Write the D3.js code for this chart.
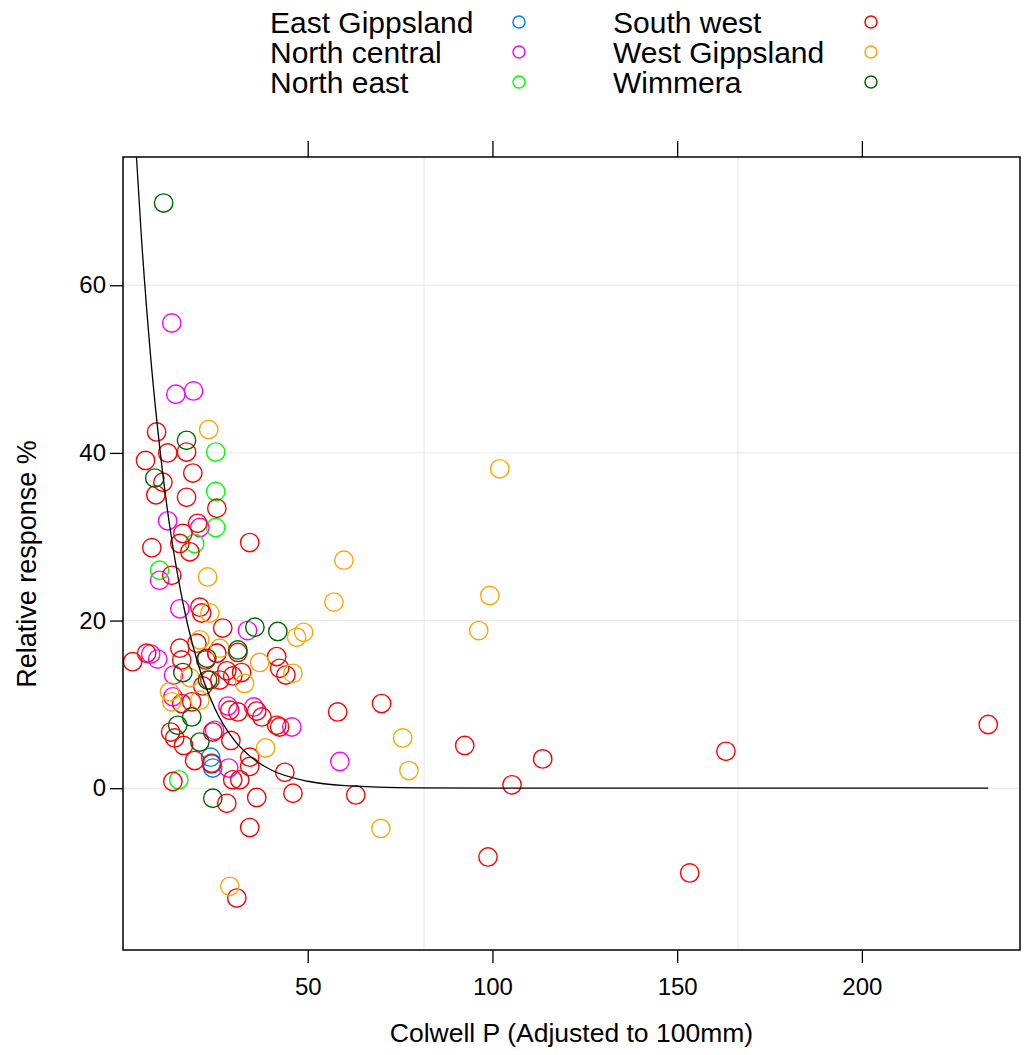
<!DOCTYPE html>
<html>
<head>
<meta charset="utf-8">
<script src="https://cdn.jsdelivr.net/npm/d3@7"></script>
<style>
  body { margin: 0; background: #fff; }
  text { font-family: "Liberation Sans", Arial, sans-serif; fill: #000; }
</style>
</head>
<body>
<div id="chart"></div>
<script>
// Data
var regions = ['East Gippsland', 'North central', 'North east', 'South west', 'West Gippsland', 'Wimmera'];
var regionColours = ['#0080ff', '#ff00ff', '#00ff00', '#ff0000', '#ffa500', '#006400'];

var eastGippslandX = [23.7, 24.0, 24.3];
var eastGippslandY = [3.7, 3.0, 2.4];

var northCentralX = [13.2, 14.3, 19.1, 12.1, 20.8, 9.9, 15.4, 33.7, 7.5, 9.4, 13.7, 13.5, 28.4, 35.4, 45.7, 24.8, 28.6, 58.7, 25.4];
var northCentralY = [55.5, 47.0, 47.4, 31.9, 31.1, 24.8, 21.4, 18.8, 16.0, 15.4, 13.5, 10.9, 9.8, 9.7, 7.3, 6.9, 2.4, 3.2, 16.1];

var northEastX = [25.1, 25.1, 25.1, 9.9, 19.4, 15.1];
var northEastY = [40.1, 35.4, 31.1, 26.0, 29.2, 1.0];

var southWestX = [2.6, 6.1, 9.1, 8.9, 10.8, 12.1, 7.8, 17.2, 18.9, 17.2, 25.4, 20.2, 16.2, 15.4, 18.1, 34.3, 13.2,
    20.8, 21.3, 27.0, 6.4, 15.4, 15.9, 20.0, 22.4, 28.1, 29.7, 32.1, 26.2, 21.6, 23.5, 41.6, 42.4, 44.1,
    15.9, 18.6, 28.9, 31.1, 36.2, 37.6, 41.6, 42.4, 12.9, 14.0, 16.4, 29.2, 24.3, 19.4, 24.0, 34.3, 34.3,
    43.8, 13.5, 29.7, 31.6, 28.1, 36.2, 46.0, 63.0, 34.3, 30.8, 58.1, 70.0, 92.5, 105.3, 98.8, 113.6,
    153.4, 163.2, 234.2, 31.1, 25.4];
var southWestY = [15.1, 39.1, 42.5, 35.0, 36.5, 40.0, 28.7, 40.1, 37.6, 34.7, 33.4, 31.6, 30.4, 29.2, 28.2, 29.3, 25.4,
    21.6, 20.9, 19.1, 16.1, 16.7, 15.3, 17.3, 15.3, 14.0, 13.4, 13.8, 12.9, 12.2, 12.9, 15.7, 14.3, 13.5,
    10.1, 10.3, 9.3, 9.1, 9.2, 8.5, 7.5, 7.3, 6.7, 6.0, 5.1, 5.7, 6.7, 3.3, 2.9, 3.7, 2.6,
    1.9, 0.8, 1.0, 1.0, -1.8, -1.1, -0.6, -0.8, -4.7, -13.1, 9.1, 10.1, 5.1, 0.4, -8.2, 3.5,
    -10.1, 4.4, 7.6, 16.2, 16.1];

var westGippslandX = [23.2, 22.9, 102.0, 59.8, 57.1, 99.3, 96.3, 47.0, 48.9, 46.0, 75.7, 77.4, 69.8, 28.9, 38.6,
    23.5, 20.8, 37.0, 32.9, 12.6, 18.1, 26.2, 13.2, 20.8];
var westGippslandY = [42.8, 25.2, 38.1, 27.2, 22.2, 23.0, 18.8, 18.0, 18.6, 13.7, 6.0, 2.1, -4.8, -11.7, 4.8,
    20.9, 17.7, 15.0, 12.5, 11.5, 13.2, 16.7, 10.3, 10.5];

var wimmeraX = [11.0, 17.2, 8.6, 35.7, 41.9, 31.1, 22.7, 16.2, 22.9, 14.8, 18.6, 20.8, 24.3];
var wimmeraY = [69.8, 41.5, 37.0, 19.2, 18.7, 16.5, 15.5, 13.8, 12.9, 7.5, 8.5, 5.5, -1.2];

// fitted decay curve, read along its path
var fitX = [2.6, 5, 7.5, 10, 12.5, 15, 17.5, 20, 25, 30, 35, 40, 50, 60, 80, 100, 150, 234.2];
var fitY = [82.8, 65.6, 51.4, 40.4, 31.7, 24.9, 19.5, 15.3, 9.4, 5.8, 3.6, 2.2, 0.83, 0.32, 0.05, 0.01, 0, 0];

var xTicks = [50, 100, 150, 200];
var yTicks = [0, 20, 40, 60];
var xGrid = [81.5, 166.5];

var seriesX = [eastGippslandX, northCentralX, northEastX, southWestX, westGippslandX, wimmeraX];
var seriesY = [eastGippslandY, northCentralY, northEastY, southWestY, westGippslandY, wimmeraY];

//   Base chart space
var W = 1024, H = 1055;
var panel = {left: 123, right: 1020, top: 157, bottom: 950};

var svg = d3.select('#chart').append('svg')
    .attr('width', W)
    .attr('height', H);
svg.append('rect').attr('width', W).attr('height', H).attr('fill', '#fff');

var x = d3.scaleLinear().domain([0, 242.8]).range([panel.left, panel.right]);
var y = d3.scaleLinear().domain([-19.3, 75.3]).range([panel.bottom, panel.top]);

svg.append('clipPath').attr('id', 'clip')
    .append('rect')
    .attr('x', panel.left).attr('y', panel.top)
    .attr('width', panel.right - panel.left)
    .attr('height', panel.bottom - panel.top);

// Grid
svg.selectAll('.hgrid').data(yTicks).enter().append('line')
    .attr('x1', panel.left).attr('x2', panel.right)
    .attr('y1', function(d) { return y(d); })
    .attr('y2', function(d) { return y(d); })
    .attr('stroke', '#e6e6e6').attr('stroke-width', 1);
svg.selectAll('.vgrid').data(xGrid).enter().append('line')
    .attr('y1', panel.top).attr('y2', panel.bottom)
    .attr('x1', function(d) { return x(d); })
    .attr('x2', function(d) { return x(d); })
    .attr('stroke', '#e6e6e6').attr('stroke-width', 1);

// Points
var plot = svg.append('g').attr('clip-path', 'url(#clip)');
regions.forEach(function(r, i) {
    var pts = seriesX[i].map(function(v, j) { return [v, seriesY[i][j]]; });
    plot.selectAll('.p' + i).data(pts).enter().append('circle')
        .attr('cx', function(d) { return x(d[0]); })
        .attr('cy', function(d) { return y(d[1]); })
        .attr('r', 9.2)
        .attr('fill', 'none')
        .attr('stroke', regionColours[i])
        .attr('stroke-width', 1.4);
});

// Fitted curve
var fit = fitX.map(function(v, j) { return [v, fitY[j]]; });
plot.append('path')
    .datum(fit)
    .attr('fill', 'none')
    .attr('stroke', '#000')
    .attr('stroke-width', 1.3)
    .attr('d', d3.line()
        .x(function(d) { return x(d[0]); })
        .y(function(d) { return y(d[1]); })
        .curve(d3.curveMonotoneX));

// Axes
var bottomAxis = svg.append('g')
    .attr('transform', 'translate(0,' + panel.bottom + ')')
    .call(d3.axisBottom(x).tickValues(xTicks).tickSize(13).tickPadding(15));
var topAxis = svg.append('g')
    .attr('transform', 'translate(0,' + panel.top + ')')
    .call(d3.axisTop(x).tickValues(xTicks).tickSize(16).tickFormat(''));
var leftAxis = svg.append('g')
    .attr('transform', 'translate(' + panel.left + ',0)')
    .call(d3.axisLeft(y).tickValues(yTicks).tickSize(13).tickPadding(4));

[bottomAxis, topAxis, leftAxis].forEach(function(a) {
    a.select('.domain').remove();
    a.selectAll('line').attr('stroke', '#000').attr('stroke-width', 1.3);
    a.selectAll('text')
        .style('font-family', '"Liberation Sans", Arial, sans-serif')
        .style('font-size', '24px')
        .attr('fill', '#000');
});

// Panel border
svg.append('rect')
    .attr('x', panel.left).attr('y', panel.top)
    .attr('width', panel.right - panel.left)
    .attr('height', panel.bottom - panel.top)
    .attr('fill', 'none')
    .attr('stroke', '#000')
    .attr('stroke-width', 1.5);

// Axis titles
svg.append('text')
    .text('Colwell P (Adjusted to 100mm)')
    .attr('x', (panel.left + panel.right) / 2)
    .attr('y', 1042)
    .attr('text-anchor', 'middle')
    .attr('font-size', '26.5px');

svg.append('text')
    .text('Relative response %')
    .attr('text-anchor', 'middle')
    .attr('font-size', '27px')
    .attr('transform', 'translate(36,564)rotate(-90)');

// Legend
var legendCols = [{text: 270, dot: 519}, {text: 613, dot: 871}];
var legend = svg.append('g');
regions.forEach(function(r, i) {
    var col = legendCols[Math.floor(i / 3)];
    var rowY = 22 + (i % 3) * 30;
    legend.append('text')
        .text(r)
        .attr('x', col.text)
        .attr('y', rowY + 11)
        .attr('font-size', '30px');
    legend.append('circle')
        .attr('cx', col.dot)
        .attr('cy', rowY)
        .attr('r', 6)
        .attr('fill', 'none')
        .attr('stroke', regionColours[i])
        .attr('stroke-width', 1.5);
});
</script>
</body>
</html>
